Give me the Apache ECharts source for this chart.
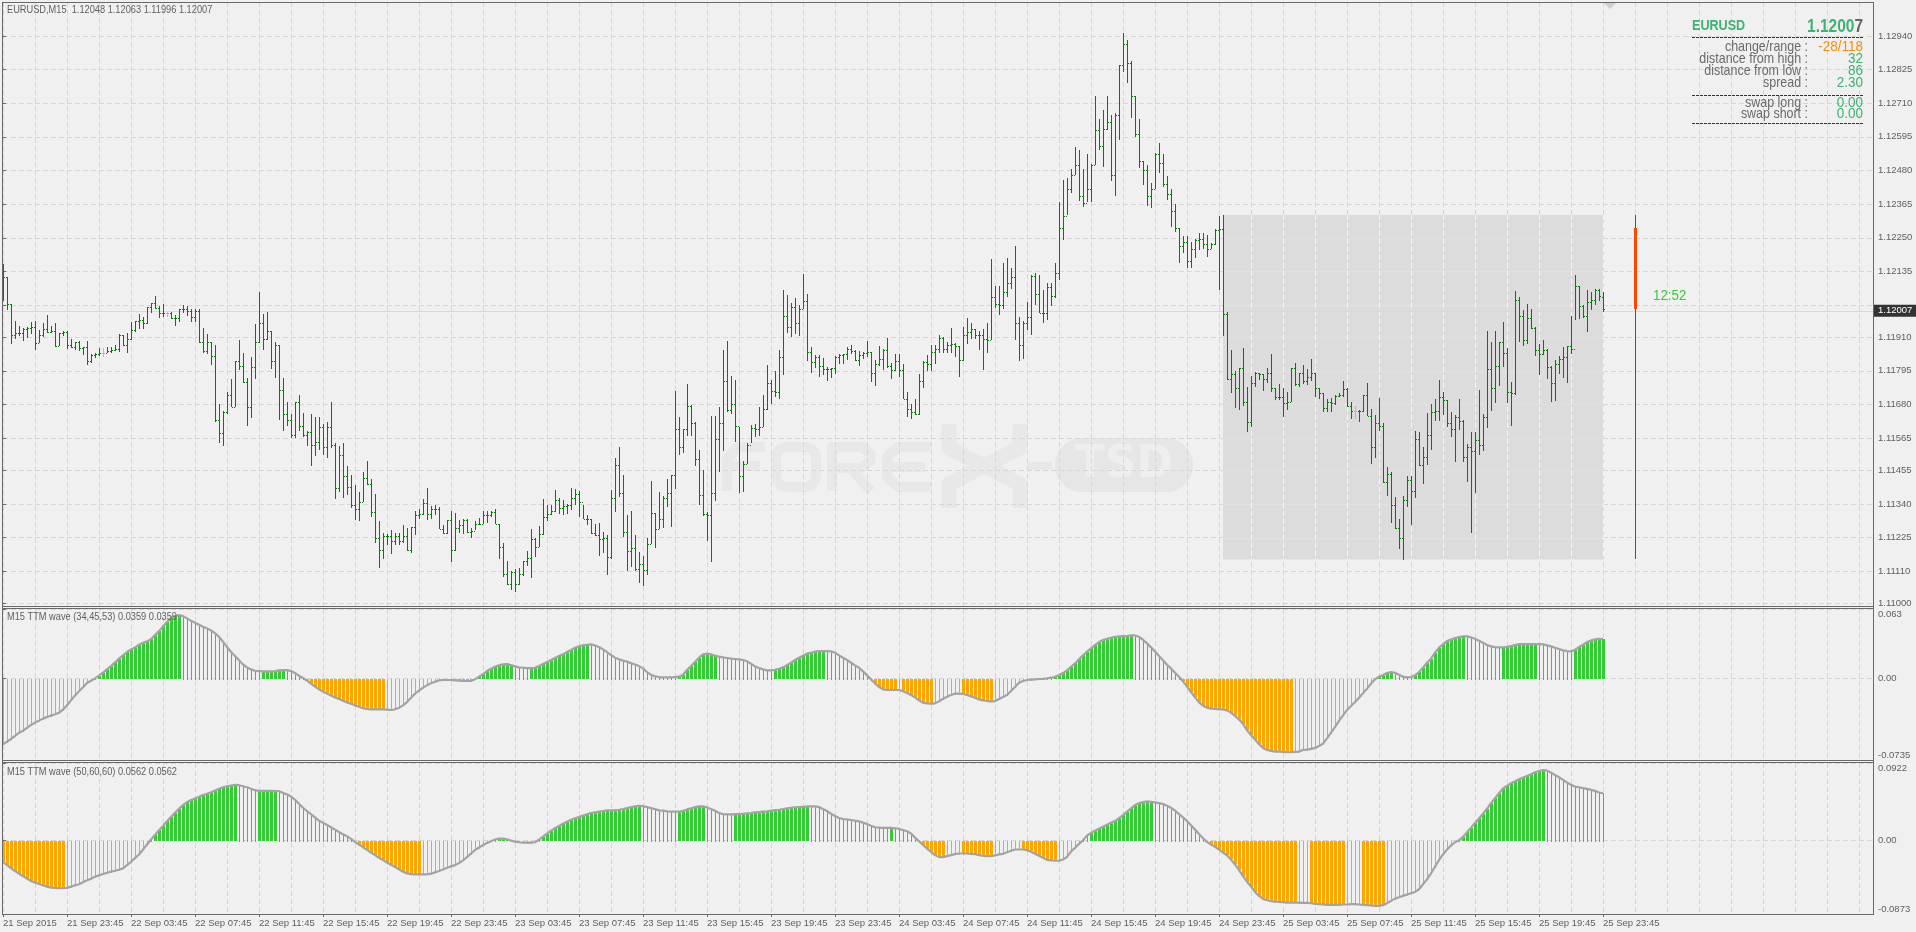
<!DOCTYPE html>
<html><head><meta charset="utf-8"><title>EURUSD M15</title>
<style>html,body{margin:0;padding:0;background:#f0f0f0}#c{width:1916px;height:932px}</style>
<script src="https://cdn.jsdelivr.net/npm/echarts@6/dist/echarts.min.js"></script></head>
<body><div id="c"></div>
<script>
// Prices are given in points (0.00001) above 1.11000
const openPts=[1140,1117,1022,916,923,925,939,941,944,889,
916,937,928,932,880,923,929,882,875,892,
872,876,827,848,852,855,855,864,866,871,
917,882,905,933,965,969,957,1012,1026,1010,
994,994,994,975,974,1008,1007,998,978,999,
894,864,892,845,627,584,655,714,672,827,
811,757,670,809,892,957,905,932,827,882,
731,646,627,575,687,608,574,586,542,550,
602,533,602,543,393,506,437,399,338,321,
345,428,408,311,222,181,230,232,214,232,
214,232,183,260,302,305,342,307,321,321,
254,242,285,181,256,267,285,245,249,271,
271,302,302,312,273,193,102,66,107,65,
100,144,155,220,193,236,294,307,315,353,
325,332,336,359,373,346,290,290,242,233,
220,222,157,359,473,379,245,180,191,119,
136,114,202,310,253,290,359,379,438,597,
533,595,674,615,492,372,305,302,379,562,
617,759,661,680,606,435,475,543,598,596,
604,665,752,725,723,843,981,944,1012,957,
1005,1034,861,824,841,811,801,800,803,842,
849,851,868,864,831,849,856,858,786,820,
834,866,811,798,828,798,697,663,655,646,
759,825,818,858,869,907,869,883,886,881,
831,917,928,937,917,917,905,902,1046,1025,
1019,1063,1097,1116,957,882,959,978,1118,1059,
994,994,1080,1052,1128,1285,1323,1418,1466,1500,
1394,1370,1415,1500,1617,1562,1623,1645,1463,1668,
1840,1914,1846,1736,1606,1514,1483,1392,1418,1535,
1507,1435,1401,1340,1285,1223,1234,1172,1213,1242,
1247,1228,1213,1230,1275,1281,991,766,783,737,
806,690,619,755,786,783,766,786,738,706,
706,684,689,803,749,786,761,775,788,735,
718,669,687,684,710,711,733,674,658,658,
656,711,641,535,615,607,416,444,335,256,
222,355,421,383,563,472,502,574,654,656,
704,694,616,597,637,622,502,533,522,557,
543,637,801,738,811,892,855,722,718,1036,
981,902,974,940,865,851,865,808,752,817,
834,841,880,869,1084,1015,981,1032,1036,1073,
1048];
const highPts=[1160,1117,1022,965,948,942,946,962,965,934,
957,986,948,957,923,931,932,904,892,897,
877,896,851,855,872,872,876,876,885,920,
917,923,962,966,989,980,1014,1026,1051,1016,
1023,997,997,986,1008,1019,1016,1006,1005,1005,
940,920,894,883,681,657,722,767,828,900,
855,769,842,955,1064,989,996,932,893,882,
770,688,649,688,711,651,588,647,637,637,
613,620,688,549,538,548,469,438,404,380,
449,486,424,374,281,241,237,250,241,241,
267,256,262,315,323,356,394,333,335,330,
267,285,315,309,285,288,288,256,281,291,
315,315,315,324,273,205,144,111,117,120,
144,179,253,222,264,356,336,336,387,359,
353,339,393,391,384,336,302,290,273,276,
244,233,387,498,534,438,302,315,233,175,
161,223,418,310,380,367,425,438,726,638,
595,750,678,619,524,456,312,640,640,670,
866,897,777,763,604,486,547,609,612,672,
712,815,762,794,866,1071,1054,1027,1044,1019,
1126,1056,876,848,848,838,809,806,845,852,
853,876,883,866,863,859,897,859,832,880,
869,907,823,851,852,819,722,680,698,784,
828,848,883,883,917,912,893,941,889,881,
945,974,960,939,930,939,958,1178,1084,1084,
1163,1180,1146,1221,978,965,1030,1122,1129,1122,
1071,1095,1095,1163,1372,1447,1454,1484,1560,1549,
1484,1536,1501,1734,1655,1686,1734,1669,1676,1842,
1950,1926,1854,1736,1655,1514,1498,1437,1539,1573,
1536,1460,1416,1365,1285,1255,1255,1235,1245,1266,
1266,1259,1231,1279,1324,1328,995,866,794,806,
873,739,777,790,786,784,803,852,737,750,
736,722,806,822,786,815,801,835,788,735,
720,698,702,712,720,760,735,688,674,661,
712,753,664,644,702,615,466,449,363,288,
367,435,435,589,586,534,651,681,698,763,
722,695,654,644,698,627,545,586,586,729,
647,931,893,931,893,962,873,757,1068,1047,
1003,1023,1006,946,887,900,869,811,832,845,
876,880,982,1122,1085,1020,1073,1064,1075,1075,
1063];
const lowPts=[1035,1003,887,905,914,897,907,921,866,889,
912,926,925,877,881,914,871,874,866,864,
849,816,823,840,845,843,855,857,863,859,
881,857,902,929,939,938,955,994,1007,975,
978,978,973,948,963,994,983,961,961,889,
857,852,815,621,549,538,649,670,672,798,
755,606,633,768,891,866,900,801,771,627,
590,606,565,565,590,570,538,469,505,524,
507,497,530,356,380,361,371,327,285,282,
345,403,296,207,122,151,200,168,200,200,
207,179,172,233,288,302,285,288,302,253,
237,237,141,180,239,237,241,223,250,267,
273,276,296,273,150,91,62,45,40,62,
93,128,87,159,193,233,282,302,313,304,
302,307,319,336,296,287,267,236,230,163,
173,98,153,313,364,228,111,125,111,68,
59,97,202,189,253,256,330,262,391,507,
513,572,572,469,337,297,213,141,351,450,
521,655,647,551,377,380,478,547,570,572,
604,661,681,706,698,780,923,910,920,915,
1005,830,788,803,775,780,760,770,784,820,
820,832,852,830,812,837,843,758,744,811,
798,803,767,794,775,697,638,631,645,645,
737,794,795,820,857,855,857,857,843,775,
829,888,903,905,865,797,856,902,1010,986,
1007,1048,1075,900,829,835,934,918,1019,993,
959,969,1017,1043,1105,1242,1327,1402,1466,1375,
1354,1372,1372,1498,1549,1491,1620,1443,1392,1584,
1816,1779,1659,1594,1488,1430,1358,1351,1418,1471,
1423,1378,1286,1269,1163,1197,1146,1146,1180,1207,
1211,1183,1211,1225,1071,913,763,720,668,661,
674,587,603,741,763,726,754,722,695,695,
637,661,688,743,739,749,746,760,705,698,
654,654,654,678,706,705,671,630,630,620,
653,640,476,497,590,412,367,274,255,185,
148,329,267,360,470,408,473,524,623,623,
644,603,568,483,592,483,415,240,377,507,
521,599,657,685,743,808,685,606,712,892,
880,887,938,845,780,849,767,688,692,784,
770,753,852,969,972,974,928,1003,1020,1034,
996];
const closePts=[1117,1022,916,923,925,939,941,944,889,916,
937,928,932,880,923,929,882,875,892,872,
876,827,848,852,855,855,864,866,871,917,
882,905,933,965,969,957,1012,1026,1010,994,
994,994,975,974,1008,1007,998,978,999,894,
864,892,845,627,584,655,714,672,827,811,
757,670,809,892,957,905,932,827,882,731,
646,627,575,687,608,574,586,542,550,602,
533,602,543,393,506,437,399,338,321,345,
428,408,311,222,181,230,232,214,232,214,
232,183,260,302,305,342,307,321,321,254,
242,285,181,256,267,285,245,249,271,271,
302,302,312,273,193,102,66,107,65,100,
144,155,220,193,236,294,307,315,353,325,
332,336,359,373,346,290,290,242,233,220,
222,157,359,473,379,245,180,191,119,136,
114,202,310,253,290,359,379,438,597,533,
595,674,615,492,372,305,302,379,562,617,
759,661,680,606,435,475,543,598,596,604,
665,752,725,723,843,981,944,1012,957,1005,
1034,861,824,841,811,801,800,803,842,849,
851,868,864,831,849,856,858,786,820,834,
866,811,798,828,798,697,663,655,646,759,
825,818,858,869,907,869,883,886,881,831,
917,928,937,917,917,905,902,1046,1025,1019,
1063,1097,1116,957,882,959,978,1118,1059,994,
994,1080,1052,1128,1285,1323,1418,1466,1500,1394,
1370,1415,1500,1617,1562,1623,1645,1463,1668,1840,
1914,1846,1736,1606,1514,1483,1392,1418,1535,1507,
1435,1401,1340,1285,1223,1234,1172,1213,1242,1247,
1228,1213,1230,1275,1281,991,766,783,737,806,
690,619,755,786,783,766,786,738,706,706,
684,689,803,749,786,761,775,788,735,718,
669,687,684,710,711,733,674,658,658,656,
711,641,535,615,607,416,444,335,256,222,
355,421,383,563,472,502,574,654,656,704,
694,616,597,637,622,502,533,522,557,543,
637,801,738,811,892,855,722,718,1036,981,
902,974,940,865,851,865,808,752,817,834,
841,880,869,1084,1015,981,1032,1036,1073,1050,
1007];
const dojiBars=[25,41,338];
// TTM wave values in units of 0.0001
const waveA=[-593,-569,-545,-518,-488,-470,-445,-418,-397,-379,
-361,-346,-334,-322,-307,-280,-241,-196,-151,-114,
-78,-39,-18,3,27,54,84,114,147,181,
211,241,265,283,307,325,337,358,394,430,
473,512,551,566,575,566,545,524,506,488,
470,455,436,412,379,334,286,241,205,166,
129,102,84,72,69,66,66,66,69,75,
78,78,69,51,27,6,-18,-45,-72,-96,
-117,-135,-153,-169,-184,-199,-214,-226,-241,-253,
-268,-274,-277,-277,-277,-277,-280,-283,-277,-262,
-241,-211,-172,-135,-108,-81,-60,-42,-27,-15,
-12,-12,-12,-15,-18,-21,-21,-21,-6,18,
42,69,90,108,120,129,132,123,111,102,
99,96,96,99,114,132,150,169,187,205,
220,241,259,280,292,301,307,310,301,286,
265,241,214,190,175,163,154,141,129,114,
93,60,36,21,15,12,12,12,15,18,
36,78,114,150,190,220,226,220,208,199,
193,187,181,178,175,169,157,135,111,96,
84,75,75,81,90,102,123,144,169,190,
208,226,235,244,250,250,250,247,235,211,
190,169,144,120,99,66,30,-6,-42,-75,
-96,-102,-102,-102,-102,-114,-129,-147,-169,-196,
-217,-223,-226,-223,-205,-181,-163,-147,-135,-135,
-138,-147,-160,-172,-187,-196,-202,-205,-202,-184,
-166,-147,-111,-75,-36,-21,-12,-9,-6,-3,
-1,3,9,18,33,51,75,108,138,175,
211,244,274,304,331,349,361,370,379,382,
385,385,391,391,379,352,319,283,247,205,
166,126,93,54,18,-24,-72,-120,-169,-214,
-244,-262,-271,-274,-277,-277,-286,-307,-337,-367,
-409,-466,-509,-551,-593,-626,-644,-653,-659,-659,
-662,-665,-665,-662,-659,-644,-641,-635,-626,-608,
-587,-539,-488,-437,-382,-331,-283,-247,-211,-172,
-132,-90,-45,-6,18,33,51,60,54,36,
18,12,15,30,60,99,144,181,235,280,
310,340,355,367,376,382,382,373,361,343,
325,304,292,286,283,283,289,295,304,313,
313,313,313,313,313,310,301,292,280,268,
256,250,247,262,286,307,331,346,355,361,
359];
const waveB=[-256,-292,-327,-362,-394,-422,-453,-481,-500,-516,
-532,-548,-559,-563,-567,-567,-563,-548,-532,-520,
-496,-473,-453,-429,-414,-398,-382,-370,-359,-347,
-331,-292,-252,-209,-165,-106,-47,12,67,122,
173,229,280,331,378,422,457,481,500,520,
540,556,575,595,615,634,646,654,662,658,
646,634,615,599,591,591,591,591,587,587,
567,548,524,485,437,390,351,315,276,236,
213,185,158,130,102,75,51,20,-16,-47,
-79,-110,-142,-173,-205,-232,-260,-288,-315,-343,
-370,-390,-398,-402,-402,-402,-402,-394,-378,-362,
-343,-323,-307,-292,-268,-236,-197,-154,-114,-83,
-55,-28,-8,12,24,24,16,0,-12,-20,
-24,-24,-24,-20,12,47,83,118,146,173,
201,225,248,264,280,296,311,327,335,343,
351,359,359,362,366,374,386,398,406,414,
410,398,386,374,359,355,347,343,343,343,
355,370,382,398,406,406,394,374,355,327,
315,311,311,315,315,319,323,327,335,339,
343,347,355,362,366,374,382,390,394,398,
402,406,406,406,398,374,351,319,292,268,
256,252,244,236,229,213,197,177,158,154,
150,150,150,146,138,126,110,83,35,-8,
-51,-95,-134,-173,-197,-197,-185,-173,-162,-154,
-154,-154,-158,-162,-173,-181,-185,-185,-177,-165,
-158,-138,-122,-106,-106,-106,-114,-134,-158,-181,
-205,-229,-236,-240,-240,-225,-193,-130,-87,-39,
4,59,91,118,142,165,189,213,232,268,
303,343,382,422,445,457,465,461,453,445,
433,414,390,355,315,276,232,181,130,79,
28,-16,-47,-75,-106,-142,-177,-225,-284,-351,
-422,-489,-548,-611,-658,-693,-709,-721,-725,-729,
-733,-737,-737,-737,-737,-741,-741,-745,-753,-756,
-760,-764,-764,-764,-764,-760,-760,-756,-756,-760,
-764,-768,-772,-776,-776,-768,-745,-717,-690,-674,
-658,-642,-626,-611,-579,-520,-461,-390,-311,-232,
-165,-106,-59,-20,4,43,99,154,209,264,
319,378,445,504,563,619,650,682,705,729,
749,768,788,812,827,839,831,808,780,753,
721,690,662,642,634,623,615,603,591,571,
562];
const solidRangesA=[[24,44],[65,70],[76,95],[112,117],[119,127],[132,146],[169,178],[193,205],[218,223],[225,232],[240,247],[263,282],[295,322],[344,347],[353,365],[375,383],[393,400]];
const solidRangesB=[[0,15],[38,58],[64,68],[89,104],[124,126],[135,159],[169,175],[183,201],[222,222],[230,235],[240,247],[255,263],[272,287],[302,323],[327,335],[340,345],[365,385]];
const priceTicks=[1.12940,1.12825,1.12710,1.12595,1.12480,1.12365,1.12250,1.12135,1.12020,1.11910,1.11795,1.11680,1.11565,1.11455,1.11340,1.11225,1.11110,1.11000];
const priceLabels=[1.12940,1.12825,1.12710,1.12595,1.12480,1.12365,1.12250,1.12135,1.11910,1.11795,1.11680,1.11565,1.11455,1.11340,1.11225,1.11110,1.11000];
const timeLabels=["21 Sep 2015","21 Sep 23:45","22 Sep 03:45","22 Sep 07:45","22 Sep 11:45","22 Sep 15:45","22 Sep 19:45","22 Sep 23:45","23 Sep 03:45","23 Sep 07:45","23 Sep 11:45","23 Sep 15:45","23 Sep 19:45","23 Sep 23:45","24 Sep 03:45","24 Sep 07:45","24 Sep 11:45","24 Sep 15:45","24 Sep 19:45","24 Sep 23:45","25 Sep 03:45","25 Sep 07:45","25 Sep 11:45","25 Sep 15:45","25 Sep 19:45","25 Sep 23:45"];
const timeTickBars=[0,16,32,48,64,80,96,112,128,144,160,176,192,208,224,240,256,272,288,304,320,336,352,368,384,400];
const waveATicks=[-0.0735,0,0.063], waveATickText=["-0.0735","0.00","0.063"];
const waveBTicks=[-0.0873,0,0.0922], waveBTickText=["-0.0873","0.00","0.0922"];
const currentPrice=1.12007;
const dayBox=[305,400,1.12328,1.11150];
const dayRangeBar=[408,1.12283,1.12328,1.11150,1.12007];
const statLabels=["change/range :","distance from high :","distance from low :","spread :"];
const statValues=["-28/118","32","86","2.30"];
const swapLabels=["swap long :","swap short :"];
const swapValues=["0.00","0.00"];

[openPts,highPts,lowPts,closePts,waveA,waveB].forEach((a,k)=>{if(a.length!==401)throw new Error('len '+k+' '+a.length);});

const F='"Liberation Sans",Arial,sans-serif';
const AXF=9.5;
const TXT='#5f5f5f', GRID='#d6d6d6', GREEN='#008000', LIME='#32cd32', ORANGE='#ffa500', SEA='#3cb371', BORDER='#696969';
const price=p=>+(1.11+p/1e5).toFixed(5);
const inRanges=(r,i)=>r.some(x=>i>=x[0]&&i<=x[1])?1:0;
const bars=openPts.map((o,i)=>[i,price(o),price(highPts[i]),price(lowPts[i]),price(closePts[i]),dojiBars.includes(i)?1:0]);
const histA=waveA.map((v,i)=>[i,v/1e4,inRanges(solidRangesA,i)]);
const histB=waveB.map((v,i)=>[i,v/1e4,inRanges(solidRangesB,i)]);
const lineA=waveA.map((v,i)=>[i,v/1e4]);
const lineB=waveB.map((v,i)=>[i,v/1e4]);

function renderOhlc(p,api){
  const i=api.value(0);
  const x=Math.round(api.coord([i,0])[0]);
  const Y=v=>Math.round(api.coord([i,v])[1]);
  const yo=Y(api.value(1)),yh=Y(api.value(2)),yl=Y(api.value(3)),yc=Y(api.value(4));
  const fill=api.value(5)?'#b8b8b8':GREEN;
  const r=(a,b,w,h)=>({type:'rect',shape:{x:a,y:b,width:w,height:h},style:{fill}});
  return {type:'group',children:[r(x,yh,1,Math.max(1,yl-yh)),r(x-1,yo,1,1),r(x+1,yc,1,1)]};
}
function renderHist(p,api){
  const i=api.value(0),v=api.value(1),solid=api.value(2);
  const x=Math.round(api.coord([i,0])[0]);
  const y0=Math.round(api.coord([i,0])[1]),yv=Math.round(api.coord([i,v])[1]);
  const fill=v>=0?LIME:ORANGE;
  return {type:'rect',shape:{x:solid?x-1:x,y:Math.min(y0,yv),width:solid?3:1,height:Math.abs(y0-yv)+(solid?0:1)},style:{fill}};
}
function renderBox(p,api){
  const a=api.coord([api.value(0),api.value(2)]),b=api.coord([api.value(1),api.value(3)]);
  const kids=[{type:'rect',shape:{x:a[0],y:a[1],width:b[0]-a[0],height:b[1]-a[1]},style:{fill:'#dcdcdc'}}];
  for(const t of priceTicks){const y=Math.round(api.coord([0,t])[1])+.5;
    if(y>a[1]&&y<b[1])kids.push({type:'line',shape:{x1:a[0],y1:y,x2:b[0],y2:y},style:{stroke:'#e3e3e3',lineWidth:1,lineDash:[5,3]}});}
  for(let k=api.value(0)-api.value(0)%8+8;k<=api.value(1);k+=8){const x=Math.round(api.coord([k,0])[0])+.5;
    kids.push({type:'line',shape:{x1:x,y1:a[1],x2:x,y2:b[1]},style:{stroke:'#f6f6f6',lineWidth:1,lineDash:[5,3]}});}
  return {type:'group',children:kids};
}
function renderRange(p,api){
  const i=api.value(0);const x=Math.round(api.coord([i,0])[0]);
  const Y=v=>Math.round(api.coord([i,v])[1]);
  return {type:'group',children:[
    {type:'rect',shape:{x,y:Y(api.value(2)),width:1,height:Y(api.value(3))-Y(api.value(2))},style:{fill:'#c8203c'}},
    {type:'rect',shape:{x:x-1,y:Y(api.value(1)),width:3,height:Y(api.value(4))-Y(api.value(1))},style:{fill:'#ff4500'}}]};
}
const gridX=(g)=>({type:'value',gridIndex:g,min:0,max:467.5,interval:8,position:'top',axisLine:{show:false},axisTick:{show:false},axisLabel:{show:false},
  splitLine:{show:true,lineStyle:{color:GRID,type:[5,3],width:1}}});
const paneY=(g,min,max,ticks,text)=>({type:'value',gridIndex:g,position:'right',min,max,scale:true,axisLine:{show:false},
  axisTick:{show:true,length:3,lineStyle:{color:BORDER},customValues:ticks},
  axisLabel:{show:true,margin:5,color:TXT,fontFamily:F,fontSize:AXF,customValues:ticks,verticalAlignMaxLabel:'top',verticalAlignMinLabel:'bottom',
    formatter:v=>{const k=ticks.findIndex(t=>Math.abs(t-v)<1e-9);return k<0?'':text[k];}},
  splitLine:{show:true,lineStyle:{color:GRID,type:[5,3],width:1}}});

const hline=(x,y,w)=>({type:'rect',shape:{x,y,width:w,height:1},style:{fill:BORDER},silent:true,z:50});
const txt=(x,y,text,o,sx)=>({type:'text',x,y,scaleX:sx||0.84,silent:true,z:60,style:Object.assign({text,fill:TXT,font:'11px '+F,align:'left',verticalAlign:'middle'},o||{})});
const dash=(y)=>({type:'line',shape:{x1:1692,y1:y+.5,x2:1863,y2:y+.5},silent:true,z:60,style:{stroke:'#333',lineWidth:1,lineDash:[3,1]}});
const WM='#e8e8e8';
const wm=(points,lw)=>({type:'polyline',shape:{points},silent:true,z:-10,style:{stroke:WM,fill:null,lineWidth:lw||10,lineJoin:'round'}});
const LF='15px '+F, RF='15px '+F;
const graphics=[
 // watermark
 wm([[727,491],[727,459],[738,447],[765,447]]),wm([[727,466],[760,466]]),
 {type:'rect',shape:{x:776,y:447,width:40,height:40,r:11},silent:true,z:-10,style:{stroke:WM,fill:null,lineWidth:10}},
 wm([[832,491],[832,447],[862,447],[871,455],[871,460],[862,468],[832,468]]),wm([[850,468],[871,491]]),
 wm([[931,447],[898,447],[887,457],[887,477],[898,487],[931,487]]),wm([[887,467],[925,467]]),
 wm([[949,424],[949,448],[984,466],[1020,448],[1020,424]],15),wm([[949,508],[949,484],[984,466],[1020,484],[1020,508]],15),
 {type:'rect',shape:{x:1028,y:462,width:24,height:8},silent:true,z:-10,style:{fill:WM}},
 {type:'rect',shape:{x:1055,y:438,width:138,height:54,r:27},silent:true,z:-10,style:{fill:'#e6e6e6'}},
 {type:'text',x:1124,y:466,silent:true,z:-9,style:{text:'TSD',fill:'#eeeeee',font:'bold 44px "DejaVu Sans"',align:'center',verticalAlign:'middle'}},
 // frames
 hline(2,2,1871),hline(2,606,1871),hline(2,608,1871),hline(2,760,1871),hline(2,762,1871),hline(2,914,1871),
 {type:'rect',shape:{x:2,y:2,width:1,height:912},silent:true,z:50,style:{fill:BORDER}},
 {type:'rect',shape:{x:1873,y:2,width:1,height:913},silent:true,z:50,style:{fill:BORDER}},
 {type:'polygon',shape:{points:[[1604,3],[1616,3],[1610,9]]},silent:true,z:50,style:{fill:'#cfcfcf'}},
 // headers
 txt(7,10,'EURUSD,M15  1.12048 1.12063 1.11996 1.12007'),
 txt(7,617,'M15 TTM wave (34,45,53) 0.0359 0.0359'),
 txt(7,772,'M15 TTM wave (50,60,60) 0.0562 0.0562'),
 txt(1653,296,'12:52',{fill:LIME,font:'14px '+F},0.95),
 // info panel
 txt(1692,26,'EURUSD',{fill:SEA,font:'bold 15px '+F}),
 {type:'text',x:1863,y:27,scaleX:0.86,silent:true,z:60,style:{text:'{a|1.1200}{b|7}',align:'right',verticalAlign:'middle',rich:{a:{fill:SEA,font:'bold 18px '+F},b:{fill:'#666666',font:'bold 18px '+F}}}},
 dash(37),dash(95),dash(123),
 ...statLabels.map((t,i)=>txt(1808,47+12*i,t,{align:'right',font:LF,fill:'#6a6a6a'},0.83)),
 ...statValues.map((t,i)=>txt(1863,47+12*i,t,{align:'right',font:RF,fill:i===0?'#ff8c00':SEA},0.9)),
 ...swapLabels.map((t,i)=>txt(1808,103+11*i,t,{align:'right',font:LF,fill:'#6a6a6a'},0.83)),
 ...swapValues.map((t,i)=>txt(1863,103+11*i,t,{align:'right',font:RF,fill:SEA},0.9))
];
const G=[{left:3,right:43,top:2,height:604},{left:3,right:43,top:609,height:151},{left:3,right:43,top:763,height:151}];
const option={
 backgroundColor:'#f0f0f0',animation:false,
 grid:G.map(g=>Object.assign({show:false,containLabel:false,outerBoundsMode:'none'},g)),
 xAxis:[gridX(0),gridX(1),gridX(2),
  {type:'value',gridIndex:2,min:0,max:467.5,position:'bottom',axisLine:{show:false},
   axisTick:{show:true,length:3,lineStyle:{color:BORDER},customValues:timeTickBars},
   axisLabel:{show:true,margin:4,align:'left',color:TXT,fontFamily:F,fontSize:AXF,customValues:timeTickBars,hideOverlap:false,
     formatter:v=>timeLabels[timeTickBars.indexOf(v)]},
   splitLine:{show:false}}],
 yAxis:[
  {type:'value',gridIndex:0,position:'right',min:1.10991,max:1.13056,axisLine:{show:false},
   axisTick:{show:true,length:3,lineStyle:{color:BORDER},customValues:priceTicks},
   axisLabel:{show:true,margin:5,color:TXT,fontFamily:F,fontSize:AXF,customValues:priceLabels,formatter:v=>v.toFixed(5)},
   splitLine:{show:true,lineStyle:{color:GRID,type:[5,3],width:1}}},
  paneY(1,-0.0735,0.063,waveATicks,waveATickText),
  paneY(2,-0.0873,0.0922,waveBTicks,waveBTickText)],
 graphic:{elements:graphics},
 series:[
  {name:'Day box',type:'custom',xAxisIndex:0,yAxisIndex:0,z:1,silent:true,clip:false,renderItem:renderBox,data:[dayBox]},
  {name:'EURUSD',type:'custom',xAxisIndex:0,yAxisIndex:0,z:3,silent:true,renderItem:renderOhlc,encode:{x:0,y:[1,2,3,4]},data:bars,
   markLine:{silent:true,symbol:'none',animation:false,z:2,lineStyle:{color:'#d8d8d8',type:'solid',width:1},
    label:{show:true,position:'end',distance:1,formatter:currentPrice.toFixed(5),color:'#fff',backgroundColor:'#333333',padding:[1,4,1,4],fontFamily:F,fontSize:AXF},
    data:[{yAxis:currentPrice}]}},
  {name:'Day range',type:'custom',xAxisIndex:0,yAxisIndex:0,z:3,silent:true,renderItem:renderRange,data:[dayRangeBar]},
  {name:'Wave A hist',type:'custom',xAxisIndex:1,yAxisIndex:1,z:2,silent:true,renderItem:renderHist,data:histA},
  {name:'Wave A',type:'line',xAxisIndex:1,yAxisIndex:1,z:3,silent:true,showSymbol:false,symbol:'none',lineStyle:{color:'#a3a3a3',width:2.2},data:lineA},
  {name:'Wave B hist',type:'custom',xAxisIndex:2,yAxisIndex:2,z:2,silent:true,renderItem:renderHist,data:histB},
  {name:'Wave B',type:'line',xAxisIndex:2,yAxisIndex:2,z:3,silent:true,showSymbol:false,symbol:'none',lineStyle:{color:'#a3a3a3',width:2.2},data:lineB}
 ]
};
const chart=echarts.init(document.getElementById('c'),null,{renderer:'canvas',width:1916,height:932});
chart.setOption(option);
</script></body></html>
